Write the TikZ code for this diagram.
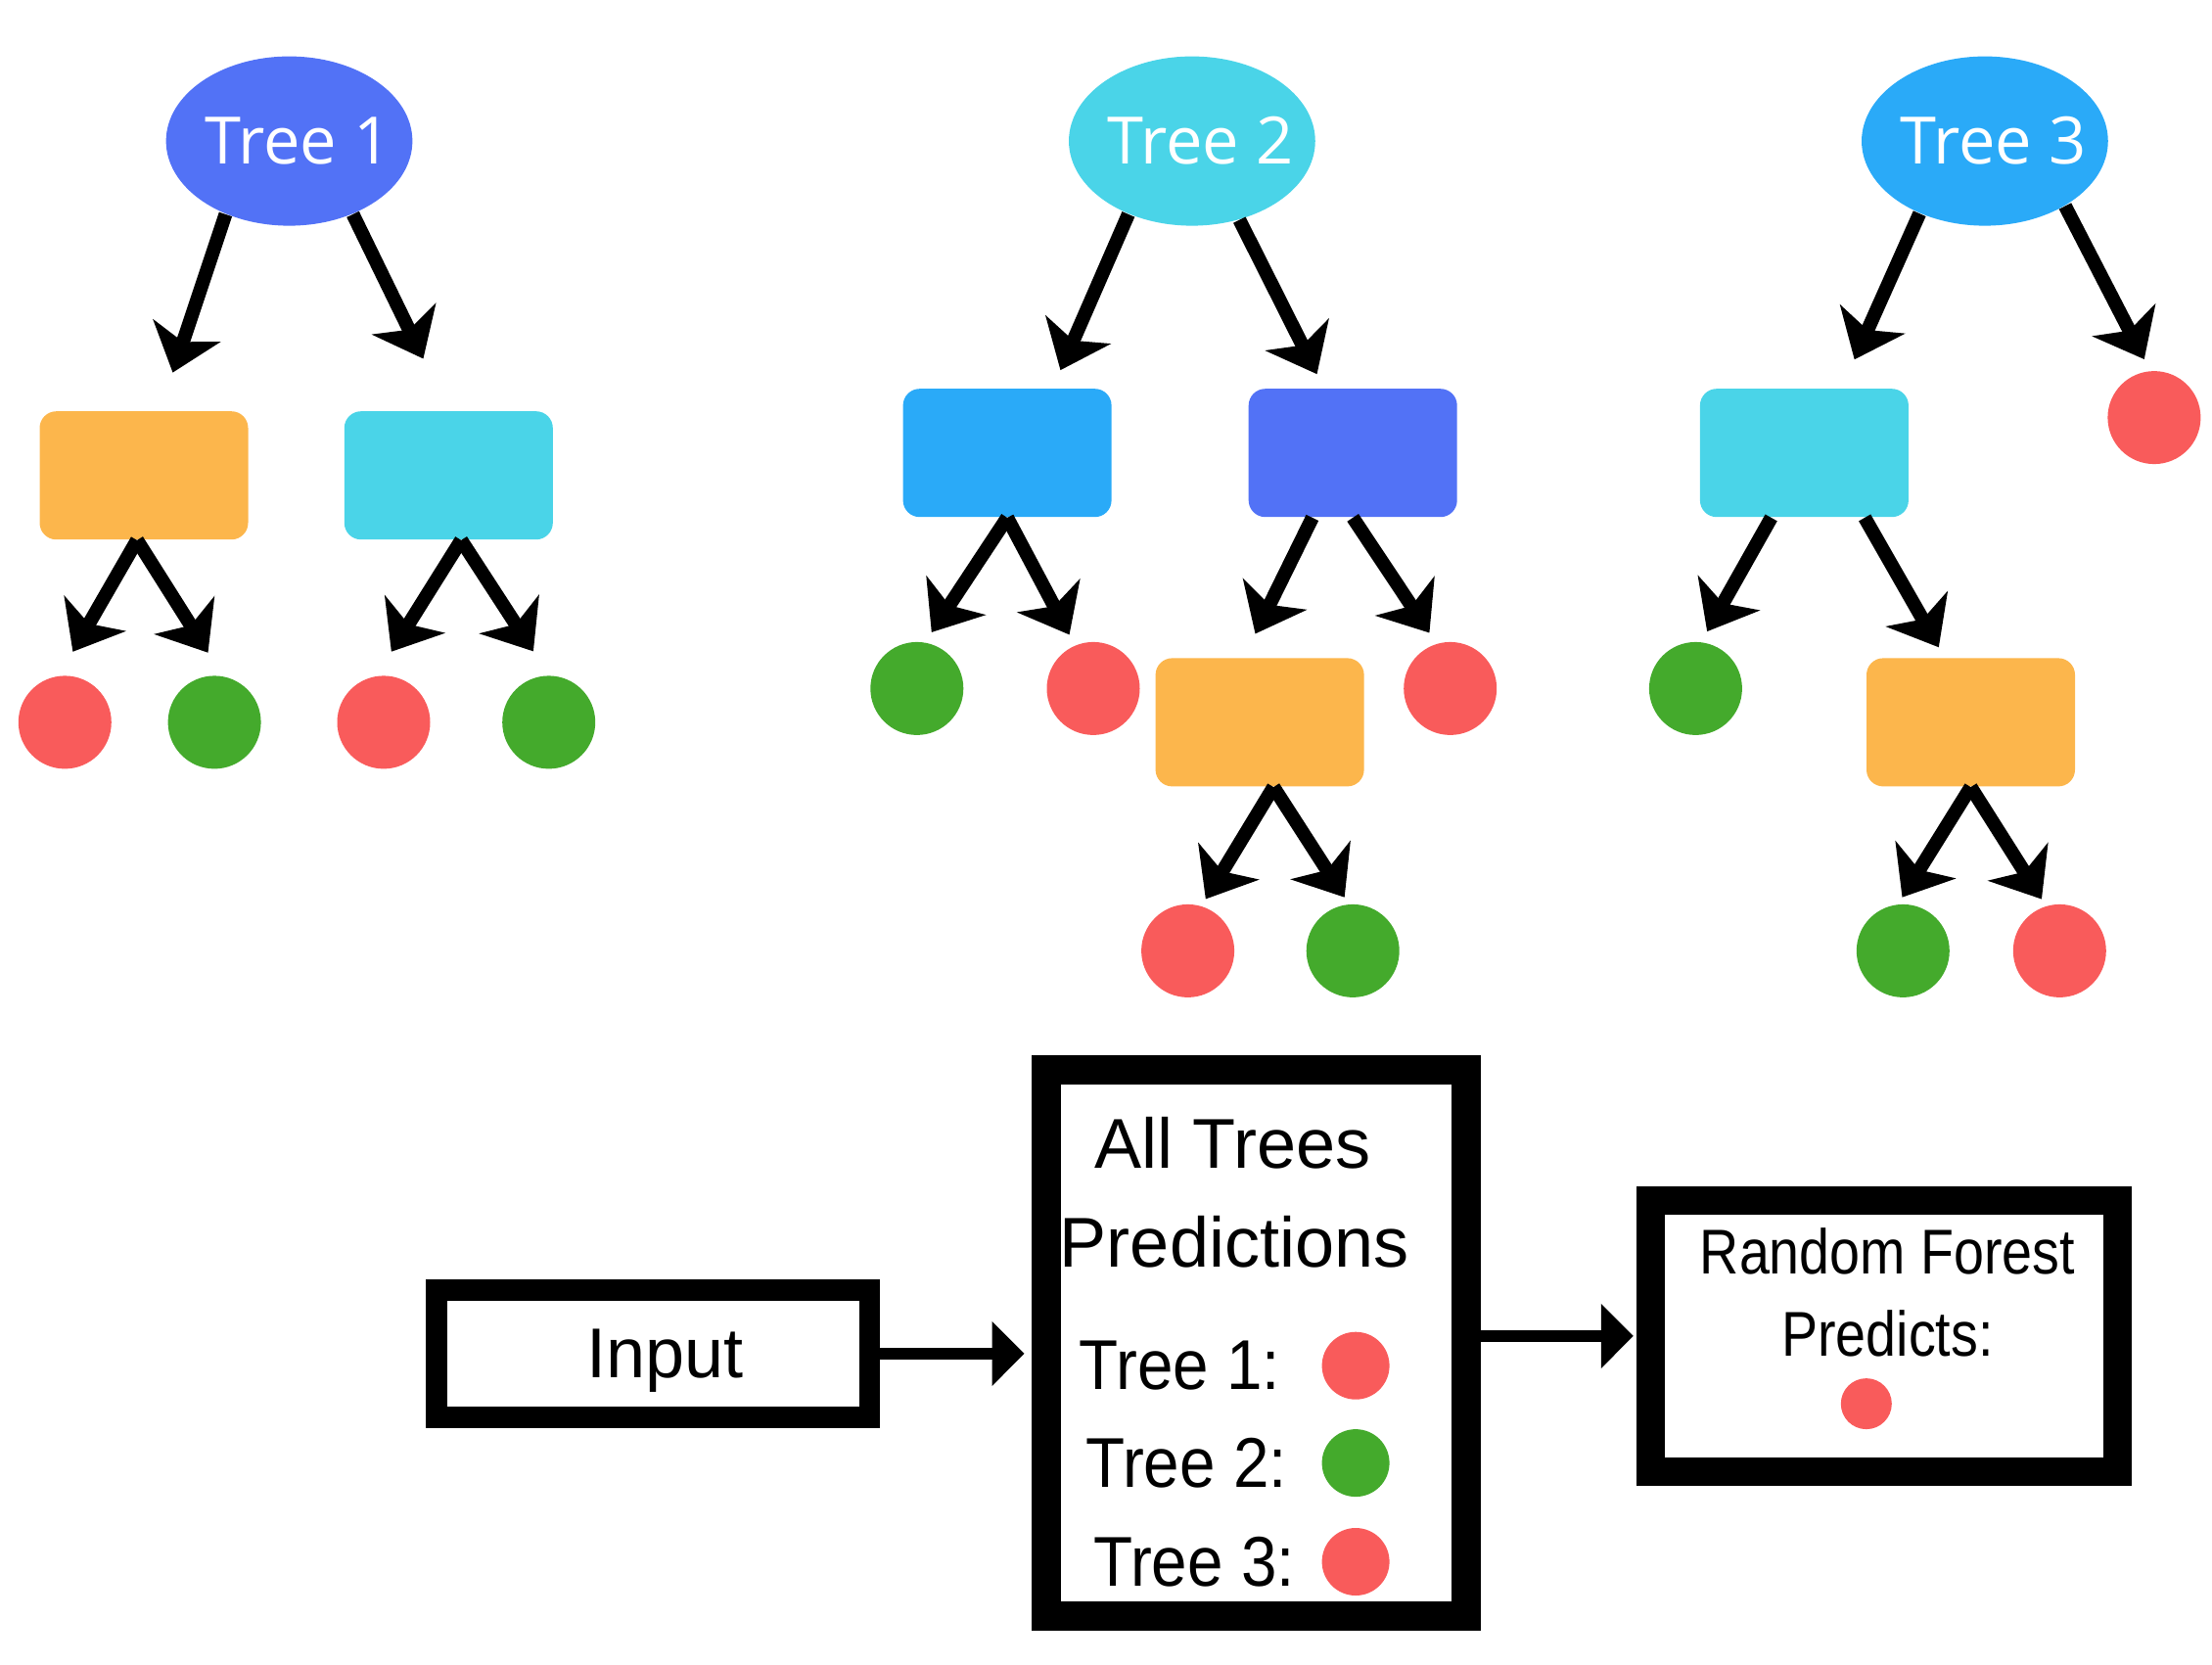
\documentclass[tikz,border=0pt]{standalone}
\usepackage{fontspec}
\setmainfont{Liberation Sans}
\newfontfamily\labelfont{Open Sans}
\newfontfamily\semifont[FakeStretch=0.91]{Liberation Sans}
\newfontfamily\narrowfont[FakeStretch=0.86]{Liberation Sans}
\usetikzlibrary{arrows.meta, positioning, calc, shapes.geometric}

\definecolor{treeblue}{RGB}{82,114,246}
\definecolor{treecyan}{RGB}{74,212,232}
\definecolor{treeazure}{RGB}{42,170,248}
\definecolor{treeorange}{RGB}{252,182,76}
\definecolor{leafred}{RGB}{249,91,91}
\definecolor{leafgreen}{RGB}{68,170,44}

\begin{document}
\begin{tikzpicture}[
    treenode/.style={ellipse, minimum width=2.45cm, minimum height=1.73cm, inner xsep=-0.15cm, inner ysep=0pt, text=white, font=\labelfont\fontsize{19}{22}\selectfont},
    split/.style={rounded corners=0.17cm, minimum width=2.13cm, minimum height=1.31cm, inner sep=0pt},
    leaf/.style={circle, minimum size=0.95cm, inner sep=0pt},
    edge/.style={line width=0.14cm, -{Stealth[length=0.45cm, width=0.72cm, inset=0.12cm]}},
    box/.style={draw, inner sep=0pt},
    flow/.style={line width=0.115cm, -{Triangle[length=0.33cm, width=0.64cm]}},
    boxtext/.style={font=\fontsize{20.5}{24}\selectfont},
    predtext/.style={font=\semifont\fontsize{20.5}{24}\selectfont},
    rftext/.style={font=\narrowfont\fontsize{18.4}{22}\selectfont},
]
    \useasboundingbox (0,0) rectangle (22.6,-17);

    % Tree 1
    \node[treenode, fill=treeblue] (t1) at (2.955,-1.441) {\hspace*{0.18cm}Tree 1};
    \node[split, fill=treeorange] (t1a) at (1.470,-4.857) {};
    \node[split, fill=treecyan] (t1b) at (4.583,-4.857) {};
    \node[leaf, fill=leafred] (t1l1) at (0.663,-7.379) {};
    \node[leaf, fill=leafgreen] (t1l2) at (2.191,-7.379) {};
    \node[leaf, fill=leafred] (t1l3) at (3.920,-7.379) {};
    \node[leaf, fill=leafgreen] (t1l4) at (5.607,-7.379) {};

    \draw[edge, shorten >=0.41cm] (t1.229) -- (t1a.76);
    \draw[edge, shorten >=0.59cm] (t1.311) -- (t1b.north);
    \draw[edge, shorten >=0.28cm] (t1a.264) -- (t1l1.97);
    \draw[edge, shorten >=0.28cm] (t1a.264) -- (t1l2.80);
    \draw[edge, shorten >=0.29cm] (t1b.281) -- (t1l3.99);
    \draw[edge, shorten >=0.29cm] (t1b.281) -- (t1l4.north);

    % Tree 2
    \node[treenode, fill=treecyan] (t2) at (12.179,-1.441) {\hspace*{0.18cm}Tree 2};
    \node[split, fill=treeazure] (t2a) at (10.291,-4.627) {};
    \node[split, fill=treeblue] (t2b) at (13.822,-4.627) {};
    \node[split, fill=treeorange] (t2c) at (12.871,-7.379) {};
    \node[leaf, fill=leafgreen] (t2l1) at (9.368,-7.034) {};
    \node[leaf, fill=leafred] (t2l2) at (11.170,-7.034) {};
    \node[leaf, fill=leafred] (t2l3) at (14.817,-7.034) {};
    \node[leaf, fill=leafred] (t2l4) at (12.136,-9.714) {};
    \node[leaf, fill=leafgreen] (t2l5) at (13.822,-9.714) {};

    \draw[edge, shorten >=0.2cm] (t2.229) -- (t2a.55);
    \draw[edge, shorten >=0.16cm] (t2.301) -- (t2b.114);
    \draw[edge, shorten >=0.12cm] (t2a.south) -- (t2l1.80);
    \draw[edge, shorten >=0.12cm] (t2a.south) -- (t2l2.113);
    \draw[edge, shorten >=0.27cm] (t2b.238) -- (t2c.104);
    \draw[edge, shorten >=0.13cm] (t2b.south) -- (t2l3.107);
    \draw[edge, shorten >=0.08cm] (t2c.282) -- (t2l4.73);
    \draw[edge, shorten >=0.08cm] (t2c.282) -- (t2l5.95);

    % Tree 3
    \node[treenode, fill=treeazure] (t3) at (20.279,-1.441) {\hspace*{0.18cm}Tree 3};
    \node[split, fill=treecyan] (t3a) at (18.434,-4.627) {};
    \node[split, fill=treeorange] (t3b) at (20.135,-7.379) {};
    \node[leaf, fill=leafred] (t3l1) at (22.009,-4.266) {};
    \node[leaf, fill=leafgreen] (t3l2) at (17.324,-7.034) {};
    \node[leaf, fill=leafgreen] (t3l3) at (19.443,-9.714) {};
    \node[leaf, fill=leafred] (t3l4) at (21.043,-9.714) {};

    \draw[edge, shorten >=0.32cm] (t3.228) -- (t3a.60);
    \draw[edge, shorten >=0.13cm] (t3.321) -- (t3l1.95);
    \draw[edge, shorten >=0.12cm] (t3a.243) -- (t3l2.83);
    \draw[edge, shorten >=0.12cm] (t3a.313) -- (t3b.112);
    \draw[edge, shorten >=0.08cm] (t3b.south) -- (t3l3.96);
    \draw[edge, shorten >=0.08cm] (t3b.south) -- (t3l4.107);

    % Input and predictions
    \node[box, line width=0.216cm, minimum width=4.425cm, minimum height=1.297cm, boxtext, text depth=0pt] (input) at (6.673,-13.829) {\hspace*{0.24cm}Input};
    \node[box, line width=0.303cm, minimum width=4.295cm, minimum height=5.578cm] (all) at (12.835,-13.721) {};
    \node[box, line width=0.288cm, minimum width=4.771cm, minimum height=2.767cm] (rf) at (19.248,-13.649) {};

    \node[boxtext] (alltitle) at (12.597,-11.675) {All Trees};
    \node[boxtext] (allsub) at (12.611,-12.683) {Predictions};
    \node[predtext] (p1) at (12.056,-13.952) {Tree 1:};
    \node[predtext] (p2) at (12.121,-14.946) {Tree 2:};
    \node[predtext] (p3) at (12.201,-15.955) {Tree 3:};
    \node[leaf, minimum size=0.69cm, fill=leafred] (d1) at (13.851,-13.952) {};
    \node[leaf, minimum size=0.69cm, fill=leafgreen] (d2) at (13.851,-14.946) {};
    \node[leaf, minimum size=0.69cm, fill=leafred] (d3) at (13.851,-15.955) {};

    \node[rftext] (rftitle) at (19.285,-12.784) {Random Forest};
    \node[rftext] (rfsub) at (19.285,-13.620) {Predicts:};
    \node[leaf, minimum size=0.52cm, fill=leafred] (rfdot) at (19.068,-14.341) {};

    \draw[flow, shorten >=0.07cm] (input.east) -- (input.east -| all.west);
    \draw[flow, shorten >=0.03cm] (all.east |- rf.west) -- (rf.west);
\end{tikzpicture}
\end{document}
